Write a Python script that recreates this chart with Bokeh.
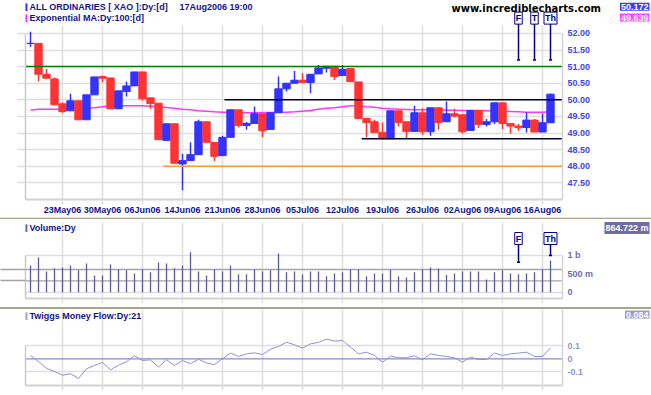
from bokeh.plotting import figure
from bokeh.models import (ColumnDataSource, FixedTicker, Label, LinearAxis,
                          Div, Range1d, NumeralTickFormatter)
from bokeh.layouts import column, row
from bokeh.embed import file_html
from bokeh.resources import INLINE

# ---------------- data ----------------
date_ticks = [4, 9, 14, 19, 24, 29, 34, 39, 44, 49, 54, 59, 64]
date_labels = ["23May06", "30May06", "06Jun06", "14Jun06", "21Jun06", "28Jun06",
               "05Jul06", "12Jul06", "19Jul06", "26Jul06", "02Aug06", "09Aug06", "16Aug06"]

opens = [51.70, 51.70, 50.77, 50.63, 49.88, 49.67, 49.97, 49.40, 50.15, 50.70,
         50.66, 49.73, 50.25, 50.42, 50.84, 50.06, 49.90, 48.78, 49.28, 48.07,
         48.17, 48.35, 49.34, 48.72, 48.32, 48.87, 49.70, 49.23, 49.29, 49.58,
         49.11, 49.61, 50.33, 50.50, 50.59, 50.52, 50.78, 50.95, 51.01, 50.73,
         50.94, 50.54, 49.44, 49.34, 49.02, 48.83, 49.67, 49.34, 49.05, 49.61,
         49.04, 49.76, 49.34, 49.58, 49.55, 49.08, 49.68, 49.26, 49.34, 49.91,
         49.29, 49.21, 49.17, 49.39, 49.03, 49.31]
highs = [52.05, 51.70, 50.93, 50.67, 49.93, 50.18, 49.97, 50.15, 50.69, 50.73,
         50.66, 50.27, 50.55, 50.84, 50.84, 50.06, 49.90, 49.28, 49.28, 48.38,
         48.72, 49.40, 49.34, 48.72, 48.92, 49.70, 49.70, 49.33, 49.80, 49.58,
         49.61, 50.70, 50.50, 50.87, 50.80, 50.77, 51.05, 51.01, 51.01, 51.05,
         50.94, 50.54, 49.44, 49.40, 49.32, 49.67, 49.67, 49.34, 49.82, 49.75,
         49.76, 49.76, 49.95, 49.73, 49.55, 49.68, 49.68, 49.42, 49.91, 49.91,
         49.29, 49.27, 49.63, 49.42, 49.58, 50.18]
lows = [51.60, 50.55, 50.65, 49.85, 49.60, 49.67, 49.40, 49.40, 50.15, 50.53,
        49.73, 49.73, 50.10, 50.42, 49.97, 49.73, 48.80, 48.78, 48.09, 47.28,
        48.17, 48.35, 48.72, 48.15, 48.32, 48.87, 49.17, 49.10, 49.29, 48.87,
        49.11, 49.61, 50.25, 50.50, 50.52, 50.20, 50.78, 50.82, 50.60, 50.73,
        50.55, 49.44, 48.87, 49.02, 48.83, 48.83, 49.20, 48.82, 49.05, 48.95,
        48.92, 49.10, 49.34, 49.47, 48.99, 49.08, 49.15, 49.20, 49.27, 49.12,
        48.98, 49.07, 49.02, 49.03, 49.03, 49.31]
closes = [51.70, 50.77, 50.65, 49.85, 49.65, 49.97, 49.40, 50.15, 50.69, 50.65,
          49.73, 50.27, 50.42, 50.84, 50.03, 49.89, 48.80, 49.28, 48.09, 48.17,
          48.35, 49.34, 48.72, 48.30, 48.87, 49.70, 49.23, 49.29, 49.58, 49.07,
          49.61, 50.33, 50.50, 50.59, 50.52, 50.77, 50.96, 51.01, 50.70, 50.92,
          50.55, 49.44, 49.32, 49.02, 48.83, 49.67, 49.32, 49.05, 49.61, 49.04,
          49.76, 49.32, 49.58, 49.51, 49.04, 49.68, 49.26, 49.34, 49.91, 49.29,
          49.21, 49.16, 49.39, 49.03, 49.31, 50.17]
ema100 = [49.69, 49.72, 49.72, 49.72, 49.72, 49.73, 49.74, 49.75, 49.76, 49.79,
          49.82, 49.82, 49.82, 49.82, 49.82, 49.81, 49.79, 49.77, 49.75, 49.72,
          49.70, 49.67, 49.66, 49.64, 49.63, 49.63, 49.62, 49.61, 49.61, 49.62,
          49.62, 49.63, 49.63, 49.64, 49.66, 49.68, 49.72, 49.75, 49.76, 49.79,
          49.82, 49.82, 49.79, 49.78, 49.75, 49.73, 49.72, 49.71, 49.70, 49.70,
          49.70, 49.70, 49.69, 49.69, 49.68, 49.68, 49.68, 49.67, 49.66, 49.66,
          49.65, 49.64, 49.63, 49.63, 49.63, 49.64]
volume_b = [0.727, 0.945, 0.564, 0.655, 0.673, 0.727, 0.600, 0.782, 0.455, 0.455,
            0.755, 0.618, 0.600, 0.509, 0.618, 0.545, 0.809, 0.782, 0.655, 0.727,
            1.091, 0.564, 0.455, 0.618, 0.564, 0.727, 0.491, 0.491, 0.618, 0.564,
            0.600, 1.055, 0.545, 0.564, 0.482, 0.564, 0.564, 0.436, 0.509, 0.545,
            0.618, 0.618, 0.436, 0.509, 0.509, 0.609, 0.436, 0.400, 0.545, 0.618,
            0.673, 0.645, 0.473, 0.509, 0.564, 0.564, 0.564, 0.345, 0.545, 0.600,
            0.509, 0.491, 0.509, 0.545, 0.618, 0.865]
tmf21 = [0.026, -0.021, -0.074, -0.097, -0.126, -0.115, -0.151, -0.077, -0.051, -0.028,
         -0.085, -0.049, -0.023, 0.023, -0.013, -0.008, -0.064, -0.008, -0.051, -0.013,
         -0.038, -0.003, -0.033, -0.044, 0.000, 0.044, 0.018, 0.038, 0.046, 0.033,
         0.074, 0.095, 0.128, 0.108, 0.082, 0.115, 0.126, 0.151, 0.136, 0.141,
         0.090, 0.038, 0.051, 0.026, -0.026, 0.021, 0.008, 0.008, 0.023, -0.008,
         0.038, 0.026, 0.018, 0.008, -0.026, 0.013, -0.005, -0.005, 0.044, 0.026,
         0.038, 0.044, 0.051, 0.018, 0.018, 0.084]

price_ticks = [47.5, 48.0, 48.5, 49.0, 49.5, 50.0, 50.5, 51.0, 51.5, 52.0]
volume_ticks = [0.0, 0.5, 1.0]
volume_tick_labels = ["0", "500 m", "1 b"]
tmf_ticks = [-0.1, 0.0, 0.1]
tmf_tick_labels = ["-0.1", "0", "0.1"]
volume_ref_levels = [0.309, 0.618]

resistance_level = 51.0
trend_levels = [48.0, 50.0, 48.83]
trend_starts = [16.6, 24.25, 41.4]
trend_colors = ["#f5a023", "#000028", "#000028"]

main_marks = ["F", "T", "Th"]
main_mark_days = [61, 63, 65]
main_mark_end = 51.2
vol_marks = ["F", "Th"]
vol_mark_days = [61, 65]
vol_mark_ends = [0.817, 1.0]

last_close_text = "50.172"
last_ema_text = "49.639"
last_volume_text = "864.722 m"
last_tmf_text = "0.084"

# ---------------- layout constants ----------------
FONT = "Liberation Sans"
GRID = "#dedede"
EDGE = "#d2d2d2"
NAVY = "#14148a"
ARROW = "#000080"
W_ALL = 651
W_MAIN = 601          # frame x 25..601 ; price scale drawn at x=562
W_SIDE = W_ALL - W_MAIN


def px_x(px):            # page x pixel -> day index (8 px per day, day 0 at x=30)
    return (px - 30) / 8.0


X0, X1, XF = px_x(25), px_x(562), px_x(W_MAIN)
P_Y0, P_Y1 = 47.0, 52.99      # main frame y 0..200
V_Y0, V_Y1 = -0.1717, 1.9809  # volume frame y 219..298
T_Y0, T_Y1 = -0.2054, 0.3792  # tmf frame y 309..385
H1, H2, H3 = 217, 88, 85
B1, B2, B3 = 17, 9, 9          # bottom borders
V_TOP, T_TOP = 219, 309

idx = list(range(len(closes)))
xr = Range1d(X0, XF)


def main_y(py):
    return P_Y1 - py * (P_Y1 - P_Y0) / 200.0


def vol_y(py):
    return V_Y1 - (py - V_TOP) * (V_Y1 - V_Y0) / 79.0


def tmf_y(py):
    return T_Y1 - (py - T_TOP) * (T_Y1 - T_Y0) / 76.0


def make_fig(height, y0, y1, bottom, show_labels, grid_top, axis_top):
    p = figure(width=W_MAIN, height=height, x_range=xr, y_range=Range1d(y0, y1),
               output_backend="svg", toolbar_location=None, y_axis_location="right",
               min_border_left=25, min_border_right=0, min_border_top=0,
               min_border_bottom=bottom, title=None)
    p.outline_line_color = None
    p.background_fill_color = "white"
    p.border_fill_color = "white"
    xa = p.xaxis[0]
    xa.ticker = FixedTicker(ticks=date_ticks)
    xa.bounds = (X0, X1)
    xa.major_tick_in = 0
    xa.major_tick_out = 5
    xa.major_tick_line_color = GRID
    xa.major_tick_line_width = 1.5
    xa.minor_tick_line_color = None
    xa.axis_line_color = EDGE
    xa.axis_line_width = 2
    if show_labels:
        xa.major_label_overrides = {t: s for t, s in zip(date_ticks, date_labels)}
        xa.major_label_text_font = FONT
        xa.major_label_text_font_style = "bold"
        xa.major_label_text_font_size = "9px"
        xa.major_label_text_color = NAVY
        xa.major_label_standoff = 0
    else:
        xa.major_label_overrides = {t: "" for t in date_ticks}
        xa.major_label_text_font_size = "0px"
        xa.major_label_standoff = 0
    p.xgrid.ticker = FixedTicker(ticks=date_ticks)
    p.xgrid.grid_line_color = GRID
    p.xgrid.grid_line_width = 1.5
    p.ygrid.grid_line_color = GRID
    p.ygrid.grid_line_width = 1.5
    try:
        p.xgrid[0].cross_bounds = (y0, grid_top)
        p.ygrid[0].cross_bounds = (X0, X1)
    except Exception:
        pass
    ya = p.yaxis[0]
    ya.fixed_location = X1
    ya.bounds = (y0, axis_top)
    ya.major_tick_in = 0
    ya.major_tick_out = 0
    ya.minor_tick_line_color = None
    ya.axis_line_color = EDGE
    ya.axis_line_width = 1.5
    ya.major_label_standoff = 5
    ya.major_label_text_font = FONT
    ya.major_label_text_font_style = "bold"
    ya.major_label_text_font_size = "9px"
    return p


def make_side(height, top, bottom_border):
    frame_h = height - bottom_border
    s = figure(width=W_SIDE, height=height, x_range=Range1d(W_MAIN, W_ALL),
               y_range=Range1d(top + frame_h, top), output_backend="svg",
               toolbar_location=None, x_axis_location=None, y_axis_location=None,
               min_border_left=0, min_border_right=0, min_border_top=0,
               min_border_bottom=bottom_border, title=None)
    s.outline_line_color = None
    s.grid.visible = False
    s.background_fill_color = "white"
    s.border_fill_color = "white"
    return s


def add_left_axis(p, ticks, bounds, tick_color, tick_out):
    la = LinearAxis(ticker=FixedTicker(ticks=ticks), major_tick_in=0, major_tick_out=tick_out,
                    major_tick_line_color=tick_color, major_tick_line_width=1.5,
                    minor_tick_line_color=None, axis_line_color="#c8c8c8",
                    axis_line_width=1.5, major_label_text_font_size="0px",
                    major_label_standoff=0, bounds=bounds)
    la.major_label_overrides = {t: "" for t in ticks}
    p.add_layout(la, "left")


def hline(p, level, color, width):
    p.segment(x0=[X0], y0=[level], x1=[X1], y1=[level], line_color=color, line_width=width)


def label(p, x, y, text, color, size="9px", font=FONT, bold=True, align="left",
          bg=None, border=None, pad=0):
    lb = Label(x=x, y=y, text=text, text_color=color, text_font_size=size, text_font=font,
               text_font_style="bold" if bold else "normal", text_align=align,
               text_baseline="middle")
    if bg is not None:
        lb.background_fill_color = bg
    if border is not None:
        lb.border_line_color = border
        lb.border_line_width = 1
    if pad:
        lb.padding = pad
    p.add_layout(lb)


# ---------------- main price panel ----------------
p1 = make_fig(H1, P_Y0, P_Y1, B1, True, main_y(25), 52.0)
p1.yaxis[0].ticker = FixedTicker(ticks=price_ticks)
p1.yaxis[0].formatter = NumeralTickFormatter(format="0.00")
p1.yaxis[0].major_label_text_color = "#4444ee"
p1.ygrid.ticker = FixedTicker(ticks=price_ticks)
add_left_axis(p1, price_ticks, (P_Y0, 52.0), GRID, 8)

p1.line(idx, ema100, line_color="#ff33ff", line_width=1.5)

colors = ["#3333ff" if c >= o else "#ff3333" for o, c in zip(opens, closes)]
src = ColumnDataSource(dict(x=idx, high=highs, low=lows,
                            top=[max(o, c) for o, c in zip(opens, closes)],
                            bottom=[min(o, c) for o, c in zip(opens, closes)],
                            color=colors))
p1.segment(x0="x", y0="low", x1="x", y1="high", line_color="color", line_width=1.5, source=src)
p1.vbar(x="x", width=0.92, top="top", bottom="bottom", fill_color="color",
        line_color="color", line_width=1, source=src)

hline(p1, resistance_level, "#008000", 1.5)
p1.segment(x0=trend_starts, y0=trend_levels, x1=[X1] * len(trend_levels), y1=trend_levels,
           line_color=trend_colors, line_width=1.5)

# F / T / Th markers
arrow_top = main_y(22.7)
p1.segment(x0=main_mark_days, y0=[arrow_top] * 3, x1=main_mark_days,
           y1=[main_mark_end] * 3, line_color=ARROW, line_width=1.5)
p1.segment(x0=[d - 0.2 for d in main_mark_days], y0=[main_mark_end] * 3,
           x1=[d + 0.2 for d in main_mark_days], y1=[main_mark_end] * 3,
           line_color=ARROW, line_width=1.5)
for d, t in zip(main_mark_days, main_marks):
    label(p1, d, main_y(17.7), t, ARROW, align="center", bg="white", border=ARROW, pad=1)

# legend texts
label(p1, px_x(23), main_y(6.5), "\u25a0", "#3333ff", size="10px", font="DejaVu Sans", align="center")
label(p1, px_x(29), main_y(6.5), "ALL ORDINARIES [ XAO ]:Dy:[d]", NAVY)
label(p1, px_x(179), main_y(6.5), "17Aug2006 19:00", NAVY)
label(p1, px_x(23), main_y(17.5), "\u25a0", "#ff33ff", size="10px", font="DejaVu Sans", align="center")
label(p1, px_x(29), main_y(17.5), "Exponential MA:Dy:100:[d]", NAVY)
label(p1, px_x(451), main_y(8.3), "www.incrediblecharts.com", "black", size="10px",
      font="DejaVu Sans")

s1 = make_side(H1, 0, B1)
label(s1, 649, 6.2, last_close_text, "white", align="right", bg="#3c3cf2", pad=1)
label(s1, 649, 17.2, last_ema_text, "white", align="right", bg="#ff44ff", pad=1)

# ---------------- volume panel ----------------
p2 = make_fig(H2, V_Y0, V_Y1, B2, False, vol_y(222), 1.0)
p2.yaxis[0].ticker = FixedTicker(ticks=volume_ticks)
p2.yaxis[0].major_label_overrides = {t: s for t, s in zip(volume_ticks, volume_tick_labels)}
p2.yaxis[0].major_label_text_color = "#6c6ca8"
p2.ygrid.ticker = FixedTicker(ticks=[0.0, 1.0])
add_left_axis(p2, volume_ref_levels, (V_Y0, 1.0), "#a4a4a4", 25)
for lv in volume_ref_levels:
    hline(p2, lv, "#a4a4a4", 1.3)
p2.segment(x0=idx, y0=[0] * len(idx), x1=idx, y1=volume_b, line_color="#5a5a9c", line_width=1.3)

vtop = vol_y(243)
p2.segment(x0=vol_mark_days, y0=[vtop] * 2, x1=vol_mark_days, y1=vol_mark_ends,
           line_color=ARROW, line_width=1.5)
p2.segment(x0=[d - 0.2 for d in vol_mark_days], y0=vol_mark_ends,
           x1=[d + 0.2 for d in vol_mark_days], y1=vol_mark_ends,
           line_color=ARROW, line_width=1.5)
for d, t in zip(vol_mark_days, vol_marks):
    label(p2, d, vol_y(238), t, ARROW, align="center", bg="white", border=ARROW, pad=1)

label(p2, px_x(23), vol_y(227), "\u25a0", "#6a6a9a", size="10px", font="DejaVu Sans", align="center")
label(p2, px_x(29), vol_y(227), "Volume:Dy", NAVY)

s2 = make_side(H2, V_TOP, B2)
label(s2, 649, 227.5, last_volume_text, "white", align="right", bg="#6e6ea0", pad=1)

# ---------------- Twiggs Money Flow panel ----------------
p3 = make_fig(H3, T_Y0, T_Y1, B3, False, T_Y1, T_Y1)
p3.yaxis[0].ticker = FixedTicker(ticks=tmf_ticks)
p3.yaxis[0].major_label_overrides = {t: s for t, s in zip(tmf_ticks, tmf_tick_labels)}
p3.yaxis[0].major_label_text_color = "#9494d4"
p3.ygrid.ticker = FixedTicker(ticks=[-0.1, 0.1])
add_left_axis(p3, [-0.1, 0.1], (T_Y0, 0.1), GRID, 0)
hline(p3, 0.0, "#8a8ac8", 1.2)
p3.line(idx, tmf21, line_color="#9090d0", line_width=1)

label(p3, px_x(23), tmf_y(315), "\u25a0", "#a0a0d0", size="10px", font="DejaVu Sans", align="center")
label(p3, px_x(29), tmf_y(315), "Twiggs Money Flow:Dy:21", NAVY)

s3 = make_side(H3, T_TOP, B3)
label(s3, 649, 314, last_tmf_text, "white", align="right", bg="#9c9cd0", pad=1)

# ---------------- separators & page ----------------
sep1a = Div(text="", width=W_ALL, height=1, margin=0, styles={"background-color": "#e6e5d8"})
sep1b = Div(text="", width=W_ALL, height=1, margin=0, styles={"background-color": "#aaa68e"})
sep2 = Div(text="", width=W_ALL, height=2, margin=0, styles={"background-color": "#aaa68e"})

page = column(row(p1, s1, spacing=0), sep1a, sep1b, row(p2, s2, spacing=0), sep2,
              row(p3, s3, spacing=0), spacing=0)

open("out.html", "w").write(file_html(page, INLINE))
